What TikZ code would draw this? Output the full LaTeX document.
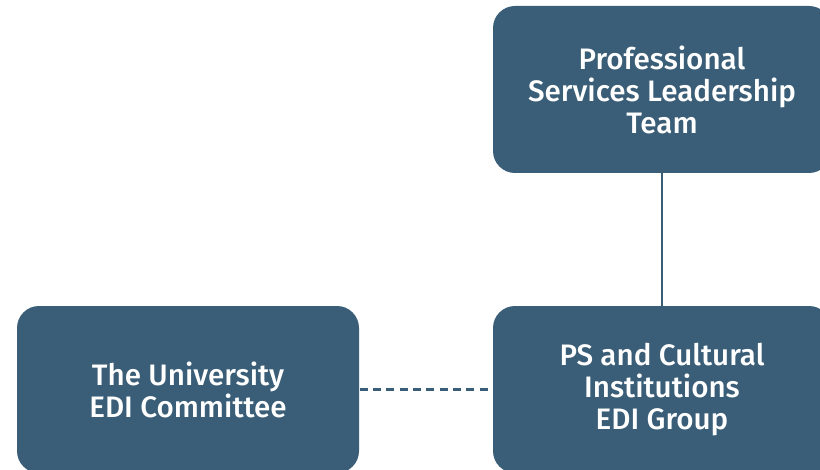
\documentclass[tikz,border=0pt]{standalone}
\usepackage{fontspec}
\setmainfont{Fira Sans Medium}
\definecolor{boxblue}{RGB}{58,94,119}
\tikzset{every picture/.style={line width=0.75pt}}
\tikzset{orgbox/.style={fill=boxblue, rounded corners=16.5, text=white, align=center,
  font=\fontsize{22.2}{24}\selectfont, minimum width=253.5, minimum height=125.25, inner sep=0}}

\begin{document}
\begin{tikzpicture}[x=0.75pt,y=0.75pt,yscale=-1,xscale=1]
	\useasboundingbox (0,0) rectangle (820,470);
	\clip (0,0) rectangle (820,470);

	% Boxes
	\node [orgbox] (pslt) at (662,89.5) {Professional\\Services Leadership\\Team};
	\node [orgbox] (psedi) at (662,389.5) {PS and Cultural\\Institutions\\EDI Group};
	\node [orgbox, minimum width=256.5] (uniedi) at (188,389.5) {The University\\EDI Committee};

	% Connectors
	\draw [boxblue, line width=1.9]  (pslt) -- (psedi) ;
	\draw [boxblue, line width=1.9, dash pattern={on 6pt off 4pt}]  (uniedi) -- (psedi) ;

\end{tikzpicture}
\end{document}
